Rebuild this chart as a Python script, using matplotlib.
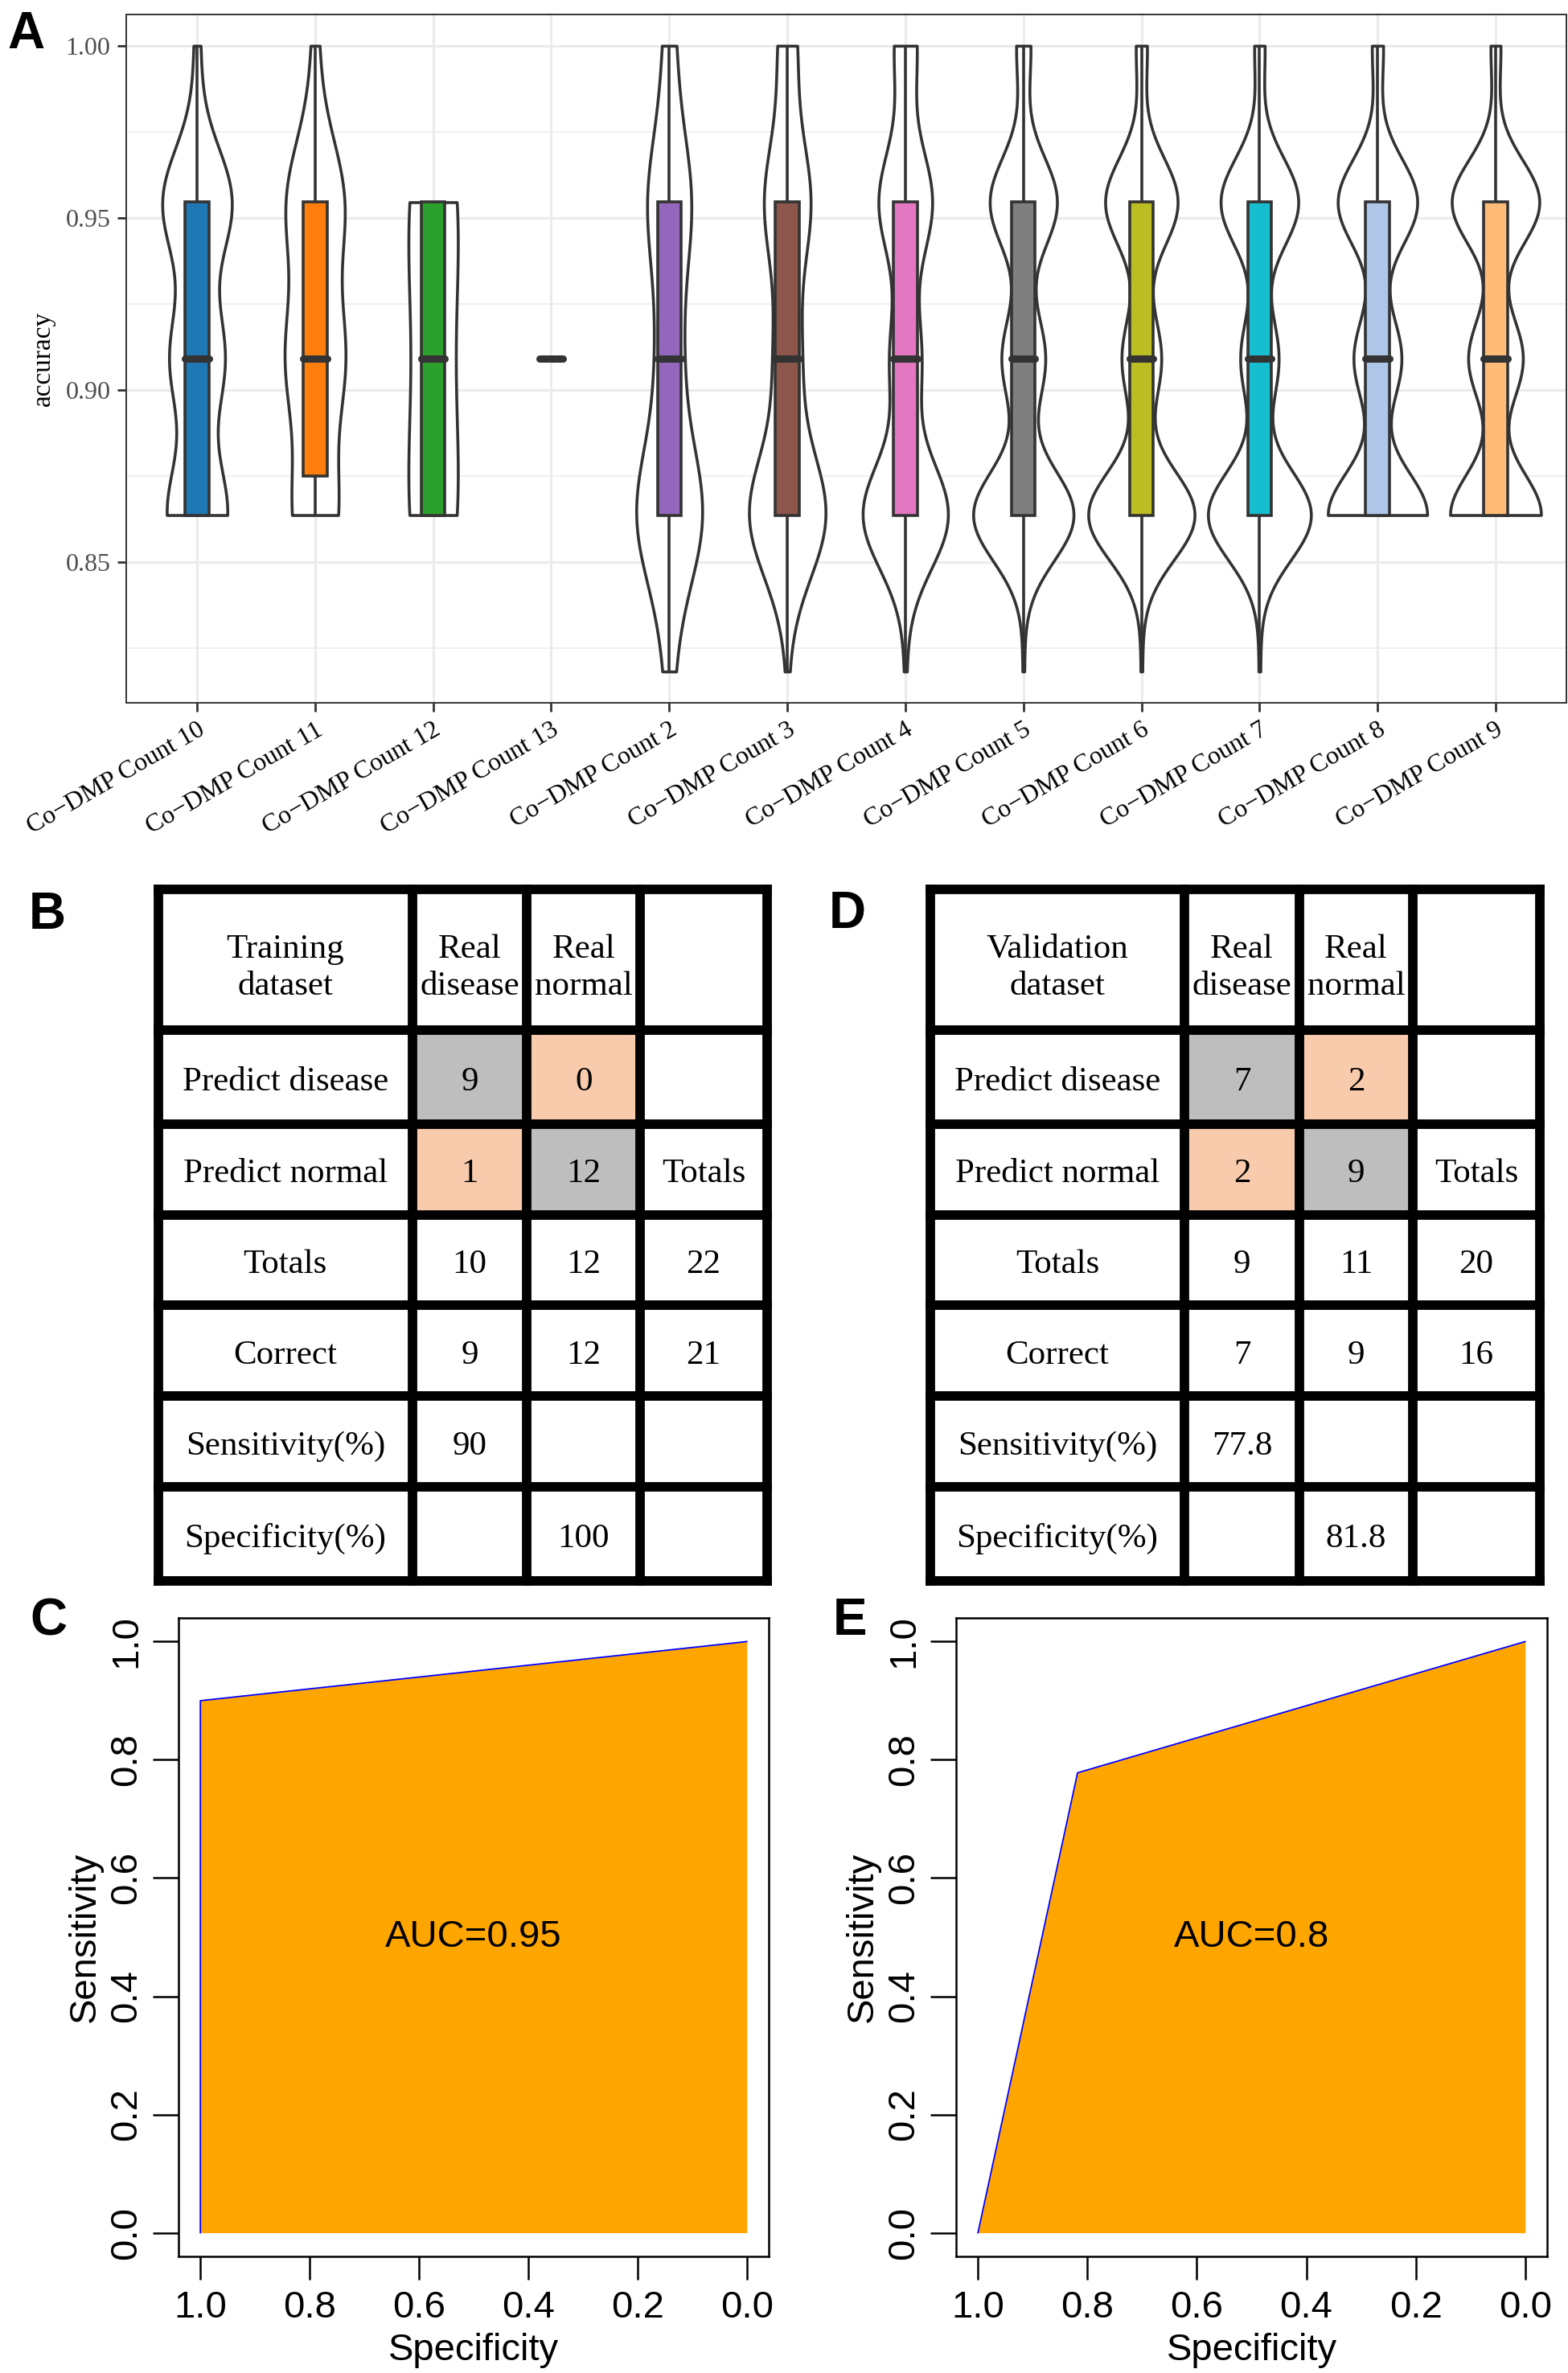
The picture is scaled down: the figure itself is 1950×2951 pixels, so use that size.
import numpy as np
import matplotlib
matplotlib.use("Agg")
import matplotlib.pyplot as plt
import matplotlib.transforms as mtransforms
from matplotlib.patches import Rectangle

plt.rcParams['font.family'] = ['Liberation Serif', 'DejaVu Serif']

# ---- panel A data: runs per accuracy level (18/22 ... 22/22) ----
acc_levels = np.array([18, 19, 20, 21, 22]) / 22
group_names = ["Co−DMP Count 10", "Co−DMP Count 11", "Co−DMP Count 12", "Co−DMP Count 13",
               "Co−DMP Count 2", "Co−DMP Count 3", "Co−DMP Count 4", "Co−DMP Count 5",
               "Co−DMP Count 6", "Co−DMP Count 7", "Co−DMP Count 8", "Co−DMP Count 9"]
group_counts = [
    [0, 20, 18, 23, 2],
    [0, 7, 9, 9, 1],
    [0, 2, 1, 2, 0],
    [0, 0, 1, 0, 0],
    [3, 23, 8, 15, 4],
    [1, 42, 14, 25, 10],
    [2, 88, 32, 55, 23],
    [2, 127, 55, 85, 18],
    [2, 135, 50, 92, 14],
    [2, 130, 48, 98, 13],
    [0, 125, 60, 100, 14],
    [0, 110, 66, 106, 12],
]
box_colors = ["#1F77B4", "#FF7F0E", "#2CA02C", "#D62728", "#9467BD", "#8C564B",
              "#E377C2", "#7F7F7F", "#BCBD22", "#17BECF", "#AEC7E8", "#FFBB78"]

# ---- tables ----
row_labels = ["Predict disease", "Predict normal", "Totals", "Correct",
              "Sensitivity(%)", "Specificity(%)"]
col_headers = ["Real\ndisease", "Real\nnormal", ""]
train_title = "Training\ndataset"
train_confusion = [[9, 0], [1, 12]]
train_totals = [10, 12, 22]
train_correct = [9, 12, 21]
train_sens = "90"
train_spec = "100"
valid_title = "Validation\ndataset"
valid_confusion = [[7, 2], [2, 9]]
valid_totals = [9, 11, 20]
valid_correct = [7, 9, 16]
valid_sens = "77.8"
valid_spec = "81.8"

# ---- ROC curves ----
train_roc_spec = [1.0, 1.0, 0.0]
train_roc_sens = [0.0, 0.9, 1.0]
train_auc = "AUC=0.95"
valid_roc_spec = [1.0, 0.818, 0.0]
valid_roc_sens = [0.0, 0.778, 1.0]
valid_auc = "AUC=0.8"

W, H = 1950, 2951
fig = plt.figure(figsize=(W / 100, H / 100), dpi=100)


def fig_rect(x0, y0, x1, y1):
    return [x0 / W, 1 - y1 / H, (x1 - x0) / W, (y1 - y0) / H]


def nrd0(x):
    sd = np.std(x, ddof=1) if len(x) > 1 else 0.0
    q75, q25 = np.percentile(x, [75, 25])
    lo = min(sd, (q75 - q25) / 1.34)
    if lo == 0:
        lo = sd if sd else (abs(x[0]) if x[0] else 1.0)
    return 0.9 * lo * len(x) ** -0.2


# ---------------- panel A ----------------
ax = fig.add_axes(fig_rect(157, 18, 1948, 874))
samples = [np.repeat(acc_levels, c) for c in group_counts]

dens = []
for x in samples:
    if len(x) < 2 or np.ptp(x) == 0:
        dens.append(None)
        continue
    h = nrd0(x)
    y = np.linspace(x.min(), x.max(), 512)
    d = np.exp(-0.5 * ((y[:, None] - x[None, :]) / h) ** 2).sum(1) / (len(x) * h * np.sqrt(2 * np.pi))
    dens.append((y, d))
gmax = max(v[1].max() for v in dens if v is not None)

edge = '#333333'
lw = 2.6
for i, x in enumerate(samples):
    if dens[i] is not None:
        y, d = dens[i]
        half = 0.45 * d / gmax
        ax.fill_betweenx(y, i - half, i + half, facecolor='white', edgecolor=edge,
                         linewidth=lw, zorder=2)
    q1, med, q3 = np.percentile(x, [25, 50, 75])
    iqr = q3 - q1
    lo_w = x[x >= q1 - 1.5 * iqr].min()
    hi_w = x[x <= q3 + 1.5 * iqr].max()
    ax.vlines(i, q3, hi_w, color=edge, linewidth=lw, zorder=3)
    ax.vlines(i, lo_w, q1, color=edge, linewidth=lw, zorder=3)
    ax.add_patch(Rectangle((i - 0.1, q1), 0.2, q3 - q1, facecolor=box_colors[i],
                           edgecolor=edge, linewidth=lw, zorder=4))
    ax.hlines(med, i - 0.1, i + 0.1, color=edge, linewidth=6.5, zorder=5, capstyle='round')

all_vals = np.concatenate(samples)
span = all_vals.max() - all_vals.min()
ax.set_ylim(all_vals.min() - 0.05 * span, all_vals.max() + 0.05 * span)
ax.set_xlim(-0.6, len(group_names) - 0.4)
ax.set_yticks([0.85, 0.90, 0.95, 1.00])
ax.set_yticks([0.825, 0.875, 0.925, 0.975], minor=True)
ax.set_yticklabels(["0.85", "0.90", "0.95", "1.00"], fontsize=23, color='#4D4D4D')
ax.set_xticks(range(len(group_names)), group_names, rotation=30, ha='right', va='top',
              rotation_mode='anchor', fontsize=23, color='black')
shift = mtransforms.ScaledTranslation(10 / 100, -4 / 100, fig.dpi_scale_trans)
for lab in ax.get_xticklabels():
    lab.set_transform(lab.get_transform() + shift)
ax.tick_params(axis='both', which='major', length=8, width=2.0, color=edge, pad=6)
ax.tick_params(axis='y', which='minor', length=0)
ax.grid(which='major', color='#EBEBEB', linewidth=2.2)
ax.grid(which='minor', axis='y', color='#EBEBEB', linewidth=1.1)
ax.set_axisbelow(True)
for s in ax.spines.values():
    s.set_color(edge)
    s.set_linewidth(1.4)
ax.set_ylabel("accuracy", fontsize=24, labelpad=9)


# ---------------- tables ----------------
def draw_table(rect, title, confusion, totals, correct, sens, spec):
    tax = fig.add_axes(rect)
    col_w = np.array([316, 143, 141, 158])
    row_h = np.array([175, 116.5, 113, 112, 113.5, 113, 117])
    xe = np.concatenate([[0], np.cumsum(col_w)])
    ye = np.concatenate([[0], np.cumsum(row_h)])
    tax.set_xlim(0, xe[-1])
    tax.set_ylim(ye[-1], 0)
    tax.axis('off')

    cells = [[title] + col_headers,
             [row_labels[0], str(confusion[0][0]), str(confusion[0][1]), ""],
             [row_labels[1], str(confusion[1][0]), str(confusion[1][1]), "Totals"],
             [row_labels[2]] + [str(v) for v in totals],
             [row_labels[3]] + [str(v) for v in correct],
             [row_labels[4], sens, "", ""],
             [row_labels[5], "", spec, ""]]

    for r in range(2):
        for c in range(2):
            fc = '#BEBEBE' if r == c else '#F8CBAD'
            tax.add_patch(Rectangle((xe[c + 1], ye[r + 1]), col_w[c + 1], row_h[r + 1],
                                    facecolor=fc, edgecolor='none', zorder=1))
    for r, row in enumerate(cells):
        dy = 10 if r == 0 else 6
        for c, txt in enumerate(row):
            tax.text((xe[c] + xe[c + 1]) / 2, (ye[r] + ye[r + 1]) / 2 + dy, txt,
                     ha='center', va='center', fontsize=31, linespacing=1.25, zorder=3)
    for xv in xe:
        tax.plot([xv, xv], [0, ye[-1]], color='black', linewidth=8.5,
                 solid_capstyle='projecting', clip_on=False, zorder=4)
    for yv in ye:
        tax.plot([0, xe[-1]], [yv, yv], color='black', linewidth=8.5,
                 solid_capstyle='projecting', clip_on=False, zorder=4)


draw_table(fig_rect(197, 1106, 954, 1966), train_title, train_confusion,
           train_totals, train_correct, train_sens, train_spec)
draw_table(fig_rect(1157, 1106, 1915, 1966), valid_title, valid_confusion,
           valid_totals, valid_correct, valid_sens, valid_spec)


# ---------------- ROC panels ----------------
def draw_roc(rect, spec, sens, label):
    rax = fig.add_axes(rect)
    rax.fill_between(spec, sens, 0, color='#FFA500', linewidth=0)
    rax.plot(spec, sens, color='#0000FF', linewidth=1.3)
    rax.set_xlim(1.04, -0.04)
    rax.set_ylim(-0.04, 1.04)
    ticks = [1.0, 0.8, 0.6, 0.4, 0.2, 0.0]
    rax.set_xticks(ticks, [f"{t:.1f}" for t in ticks], fontfamily='Liberation Sans', fontsize=34)
    rax.set_yticks(ticks, [f"{t:.1f}" for t in ticks], fontfamily='Liberation Sans', fontsize=34,
                   rotation=90, va='center')
    rax.tick_params(axis='x', length=21, width=1.8, pad=9)
    rax.tick_params(axis='y', length=23, width=1.8, pad=8)
    for s in rax.spines.values():
        s.set_linewidth(1.8)
    rax.set_xlabel("Specificity", fontfamily='Liberation Sans', fontsize=34, labelpad=7)
    rax.set_ylabel("Sensitivity", fontfamily='Liberation Sans', fontsize=34, labelpad=5)
    rax.text(0.5, 0.5, label, ha='center', va='center', fontfamily='Liberation Sans', fontsize=34)


draw_roc(fig_rect(222, 2012, 956, 2806), train_roc_spec, train_roc_sens, train_auc)
draw_roc(fig_rect(1189, 2012, 1924, 2806), valid_roc_spec, valid_roc_sens, valid_auc)

# panel letters
for letter, px, py in [("A", 9, 60), ("B", 36, 1155), ("C", 37, 2033),
                       ("D", 1031, 1154), ("E", 1036, 2033)]:
    fig.text(px / W, 1 - py / H, letter, fontfamily='Liberation Sans', fontweight='bold',
             fontsize=46, ha='left', va='baseline')

fig.savefig("out.png", dpi=100)
